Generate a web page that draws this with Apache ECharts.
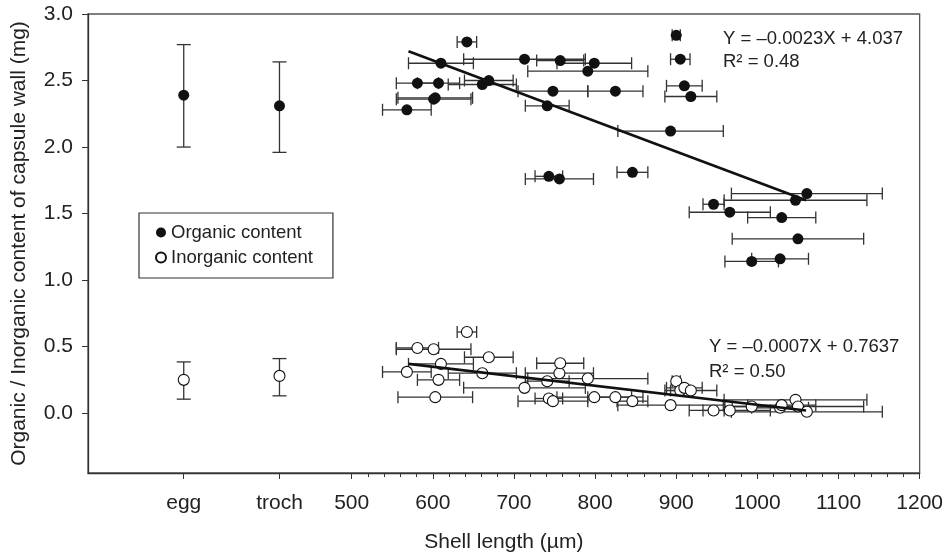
<!DOCTYPE html>
<html>
<head>
<meta charset="utf-8">
<script src="https://cdn.jsdelivr.net/npm/echarts@6/dist/echarts.min.js"></script>
<style>
  html, body { margin: 0; padding: 0; background: #fff; }
  #chart { width: 946px; height: 558px; }
</style>
</head>
<body>
<div id="chart"></div>
<script>
// shell length of each capsule sample (µm) and its +/- error
const shellLength = [568, 581, 601, 603, 607, 610, 642, 661, 669, 713, 741, 743, 748, 756, 757, 791,
  799, 825, 846, 893, 900, 905, 910, 918, 946, 966, 993, 1028, 1030, 1047, 1050, 1061]
const shellErr = [30, 26, 46, 46, 26, 40, 12, 42, 30, 75, 27, 17, 43, 42, 29, 74,
  46, 34, 19, 65, 5, 12, 22, 32, 13, 50, 33, 35, 42, 88, 81, 93]
// content of capsule wall (mg)
const organic = [2.28, 2.48, 2.36, 2.37, 2.48, 2.63, 2.79, 2.47, 2.50, 2.66, 2.31, 1.78, 2.42, 1.76, 2.65, 2.57,
  2.63, 2.42, 1.81, 2.12, 2.84, 2.66, 2.46, 2.38, 1.57, 1.51, 1.14, 1.16, 1.47, 1.60, 1.31, 1.65]
const inorganic = [0.31, 0.49, 0.48, 0.12, 0.25, 0.37, 0.61, 0.30, 0.42, 0.19, 0.24, 0.11, 0.09, 0.30, 0.375, 0.26,
  0.12, 0.12, 0.09, 0.06, 0.24, 0.17, 0.19, 0.17, 0.02, 0.02, 0.05, 0.04, 0.06, 0.10, 0.05, 0.01]

// egg / trochophore stages (mean with vertical error bar)
const stageNames = ['egg', 'troch']
const stageOrganic = [2.39, 2.31]
const stageOrganicLow = [2.0, 1.96]
const stageOrganicHigh = [2.77, 2.64]
const stageInorganic = [0.25, 0.28]
const stageInorganicLow = [0.105, 0.13]
const stageInorganicHigh = [0.385, 0.41]

// regression lines (end points)
const organicFit = [[570, 2.72], [1060, 1.60]]
const inorganicFit = [[570, 0.37], [1060, 0.02]]

const xTicks = [500, 600, 700, 800, 900, 1000, 1100, 1200]
const yTicks = [0, 0.5, 1.0, 1.5, 2.0, 2.5, 3.0]

// where the two stage columns sit on the x scale
const stagePos = [293, 411]
const minorTicks = []
for (let v = 520; v < 1200; v += 20) {
  if (v % 100 !== 0) minorTicks.push(v)
}

const font = 'Liberation Sans, Arial, sans-serif'
const barStyle = { stroke: '#333', lineWidth: 1.3, fill: null }
const axisFont = { fontSize: 21, color: '#222', fontFamily: font }

// horizontal error bars: [x, y, err]
const hBars = (params, api) => {
  const x = api.value(0), y = api.value(1), e = api.value(2)
  const a = api.coord([x - e, y])
  const b = api.coord([x + e, y])
  const c = 6
  return {
    type: 'group',
    children: [
      { type: 'line', shape: { x1: a[0], y1: a[1], x2: b[0], y2: b[1] }, style: barStyle },
      { type: 'line', shape: { x1: a[0], y1: a[1] - c, x2: a[0], y2: a[1] + c }, style: barStyle },
      { type: 'line', shape: { x1: b[0], y1: b[1] - c, x2: b[0], y2: b[1] + c }, style: barStyle }
    ]
  }
}
// vertical error bars: [x, low, high]
const vBars = (params, api) => {
  const x = api.value(0)
  const a = api.coord([x, api.value(1)])
  const b = api.coord([x, api.value(2)])
  const c = 7
  return {
    type: 'group',
    children: [
      { type: 'line', shape: { x1: a[0], y1: a[1], x2: b[0], y2: b[1] }, style: barStyle },
      { type: 'line', shape: { x1: a[0] - c, y1: a[1], x2: a[0] + c, y2: a[1] }, style: barStyle },
      { type: 'line', shape: { x1: b[0] - c, y1: b[1], x2: b[0] + c, y2: b[1] }, style: barStyle }
    ]
  }
}

const orgPoints = stagePos.map((x, i) => [x, stageOrganic[i]])
  .concat(shellLength.map((x, i) => [x, organic[i]]))
const inorgPoints = stagePos.map((x, i) => [x, stageInorganic[i]])
  .concat(shellLength.map((x, i) => [x, inorganic[i]]))
const hBarData = shellLength.map((x, i) => [x, organic[i], shellErr[i]])
  .concat(shellLength.map((x, i) => [x, inorganic[i], shellErr[i]]))
const vBarData = stagePos.map((x, i) => [x, stageOrganicLow[i], stageOrganicHigh[i]])
  .concat(stagePos.map((x, i) => [x, stageInorganicLow[i], stageInorganicHigh[i]]))

const chart = echarts.init(document.getElementById('chart'))
const option = {
  animation: false,
  backgroundColor: '#fff',
  textStyle: { fontFamily: font },
  grid: {
    left: 88,
    right: 26,
    top: 14,
    bottom: 81,
    show: true,
    borderColor: '#555',
    borderWidth: 1.3
  },
  legend: {
    data: [
      { name: 'Organic content', icon: 'circle' },
      { name: 'Inorganic content', icon: 'circle' }
    ],
    orient: 'vertical',
    left: 139,
    top: 213,
    padding: [10, 20, 11, 16],
    itemGap: 6,
    itemWidth: 10,
    itemHeight: 10,
    borderColor: '#333',
    borderWidth: 1.2,
    selectedMode: false,
    textStyle: { fontSize: 18.5, color: '#222', fontFamily: font }
  },
  xAxis: [
    {
      type: 'value',
      min: 175,
      max: 1200,
      position: 'bottom',
      name: 'Shell length (µm)',
      nameLocation: 'middle',
      nameGap: 59,
      nameTextStyle: axisFont,
      axisLine: { show: true, onZero: false, lineStyle: { color: '#333', width: 1.3 } },
      axisTick: { show: true, length: 6, customValues: stagePos.concat(xTicks), lineStyle: { color: '#333' } },
      axisLabel: {
        customValues: stagePos.concat(xTicks),
        margin: 20,
        fontSize: 21,
        color: '#222',
        fontFamily: font,
        formatter: (v) => {
          const i = stagePos.indexOf(v)
          return i >= 0 ? stageNames[i] : String(v)
        }
      },
      splitLine: { show: false }
    },
    {
      // minor ticks of the shell length part only
      type: 'value',
      min: 175,
      max: 1200,
      position: 'bottom',
      axisLine: { show: false, onZero: false },
      axisTick: { show: true, length: 4, customValues: minorTicks, lineStyle: { color: '#333' } },
      axisLabel: { show: false },
      splitLine: { show: false }
    }
  ],
  yAxis: {
    type: 'value',
    min: -0.45,
    max: 3.0,
    name: 'Organic / Inorganic content of capsule wall (mg)',
    nameLocation: 'middle',
    nameGap: 58,
    nameTextStyle: axisFont,
    axisLine: { show: true, onZero: false, lineStyle: { color: '#333', width: 1.3 } },
    axisTick: { show: true, length: 6, customValues: yTicks, lineStyle: { color: '#333' } },
    axisLabel: {
      customValues: yTicks,
      margin: 15,
      fontSize: 21,
      color: '#222',
      fontFamily: font,
      formatter: (v) => v.toFixed(1)
    },
    splitLine: { show: false }
  },
  series: [
    { type: 'custom', renderItem: hBars, data: hBarData, z: 1, silent: true },
    { type: 'custom', renderItem: vBars, data: vBarData, z: 1, silent: true },
    {
      name: 'Organic content',
      type: 'scatter',
      symbol: 'circle',
      symbolSize: 11,
      itemStyle: { color: '#111', opacity: 1 },
      data: orgPoints,
      z: 3
    },
    {
      name: 'Inorganic content',
      type: 'scatter',
      symbol: 'circle',
      symbolSize: 11,
      itemStyle: { color: '#fff', borderColor: '#111', borderWidth: 1.1, opacity: 1 },
      data: inorgPoints,
      z: 3
    },
    {
      type: 'line',
      data: organicFit,
      symbol: 'none',
      lineStyle: { color: '#111', width: 2.6 },
      z: 4,
      silent: true
    },
    {
      type: 'line',
      data: inorganicFit,
      symbol: 'none',
      lineStyle: { color: '#111', width: 2.6 },
      z: 4,
      silent: true
    }
  ],
  graphic: [
    { type: 'text', left: 723, top: 29, style: { text: 'Y = –0.0023X + 4.037', fontSize: 18.5, fill: '#222', fontFamily: font } },
    { type: 'text', left: 723, top: 52, style: { text: 'R² = 0.48', fontSize: 18.5, fill: '#222', fontFamily: font } },
    { type: 'text', left: 709, top: 337, style: { text: 'Y = –0.0007X + 0.7637', fontSize: 18.5, fill: '#222', fontFamily: font } },
    { type: 'text', left: 709, top: 362, style: { text: 'R² = 0.50', fontSize: 18.5, fill: '#222', fontFamily: font } }
  ]
}
chart.setOption(option)
</script>
</body>
</html>
